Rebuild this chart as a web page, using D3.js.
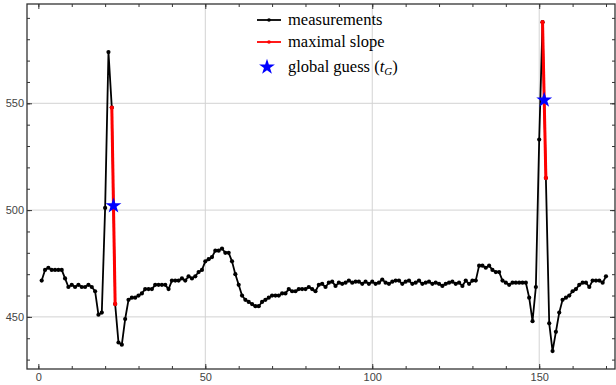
<!DOCTYPE html>
<html><head><meta charset="utf-8">
<script src="https://cdn.jsdelivr.net/npm/d3@7"></script>
<style>body{margin:0;background:#fff}svg{display:block}</style>
</head><body>
<script>
const measurements = [467,472,473,472,472,472,472,468,464,465,464,465,464,464,465,464,462,451,452,501,
574,548,456,438,437,449,458,459,459,460,461,463,463,463,465,465,465,465,463,467,
467,467,468,467,469,468,469,471,472,476,477,478,481,481,482,480,480,476,470,465,
460,458,457,456,455,455,457,458,459,460,460,460,461,461,463,462,462,463,463,463,
464,463,462,465,465.5,464,466,466.5,464.5,466,465.5,466,467,466,466.5,466.5,465.5,466.5,465.5,466.5,
465.5,466,467.5,466,465.5,466.5,467,467,465.5,466.5,467,465.5,466,467,465.5,466,466.5,465.5,466,465.5,
464.5,465.5,466,466.5,465.5,466,464.5,467,465.5,467,467,474,474,473,474,472,471,471,467,466,
465,466,466,466,466,466,459,448,464,533,588,515,447,434,443,452,458,459,460,462,
463,465,466,466,464,467,467,467,466,469];
const sampleIndex = measurements.map((d,i)=>i+1);
const slopeSegments = [[22,23],[151,152]];
const guessX = [22.5, 151.5];
const guessY = [502, 551.5];
const xMajor = [0,50,100,150];
const yMajor = [450,500,550];
const legendLabels = ["measurements","maximal slope","global guess"];

const W=616,H=385;
const svg=d3.select("body").append("svg").attr("width",W).attr("height",H);
const x=d3.scaleLinear().domain([-3.4,172.7]).range([27,615]);
const y=d3.scaleLinear().domain([425.6,596.5]).range([369,4]);

// grid
svg.append("g").selectAll("line").data(xMajor.filter(d=>d>0)).join("line")
 .attr("x1",d=>x(d)).attr("x2",d=>x(d)).attr("y1",4).attr("y2",369)
 .attr("stroke","#d3d3d3").attr("stroke-width",1);
svg.append("g").selectAll("line").data(yMajor).join("line")
 .attr("y1",d=>y(d)).attr("y2",d=>y(d)).attr("x1",27).attr("x2",615)
 .attr("stroke","#d3d3d3").attr("stroke-width",1);

const xMinor=d3.range(0,171,10), yMinor=d3.range(430,596,10);
function axisStyle(g){g.select(".domain").remove();g.selectAll("line").attr("stroke","#333");
 g.selectAll("text").attr("fill","#444").style("font-family","'Liberation Sans',Arial,sans-serif").style("font-size","11px");}
svg.append("g").attr("transform","translate(0,369)").call(d3.axisBottom(x).tickValues(xMinor).tickSize(-3).tickFormat("")).call(axisStyle);
svg.append("g").attr("transform","translate(0,369)").call(d3.axisBottom(x).tickValues(xMajor).tickSize(-5).tickPadding(4)).call(axisStyle);
svg.append("g").attr("transform","translate(0,4)").call(d3.axisTop(x).tickValues(xMinor).tickSize(-3).tickFormat("")).call(axisStyle);
svg.append("g").attr("transform","translate(0,4)").call(d3.axisTop(x).tickValues(xMajor).tickSize(-5).tickFormat("")).call(axisStyle);
svg.append("g").attr("transform","translate(27,0)").call(d3.axisLeft(y).tickValues(yMinor).tickSize(-3).tickFormat("")).call(axisStyle);
svg.append("g").attr("transform","translate(27,0)").call(d3.axisLeft(y).tickValues(yMajor).tickSize(-5).tickPadding(3)).call(axisStyle);
svg.append("g").attr("transform","translate(615,0)").call(d3.axisRight(y).tickValues(yMinor).tickSize(-3).tickFormat("")).call(axisStyle);
svg.append("g").attr("transform","translate(615,0)").call(d3.axisRight(y).tickValues(yMajor).tickSize(-5).tickFormat("")).call(axisStyle);
// frame
svg.append("rect").attr("x",27).attr("y",4).attr("width",588).attr("height",365)
 .attr("fill","none").attr("stroke","#333").attr("stroke-width",1.3);

const pts=measurements.map((v,i)=>[sampleIndex[i],v]);
const line=d3.line().x(d=>x(d[0])).y(d=>y(d[1]));
svg.append("path").datum(pts).attr("d",line).attr("fill","none").attr("stroke","#000").attr("stroke-width",1.8).attr("stroke-linejoin","round");
svg.append("g").selectAll("circle").data(pts).join("circle")
 .attr("cx",d=>x(d[0])).attr("cy",d=>y(d[1])).attr("r",2.1).attr("fill","#000");

slopeSegments.forEach(s=>{
  const seg=s.map(i=>[i,measurements[i-1]]);
  svg.append("path").datum(seg).attr("d",line).attr("fill","none").attr("stroke","#f00").attr("stroke-width",3);
  svg.append("g").selectAll("circle").data(seg).join("circle")
   .attr("cx",d=>x(d[0])).attr("cy",d=>y(d[1])).attr("r",2.1).attr("fill","#f00");
});
const star=d3.symbol().type(d3.symbolStar).size(78);
svg.append("g").selectAll("path").data(guessX.map((g,i)=>[g,guessY[i]])).join("path")
 .attr("d",star).attr("transform",d=>`translate(${x(d[0])},${y(d[1])})`).attr("fill","#00f");

// legend
const lg=svg.append("g").style("font-family","'Liberation Serif','Times New Roman',serif").style("font-size","16.5px");
[["#000",20],["#f00",42]].forEach(([c,yy],i)=>{
  lg.append("line").attr("x1",257).attr("x2",281).attr("y1",yy).attr("y2",yy).attr("stroke",c).attr("stroke-width",1.8);
  lg.append("circle").attr("cx",269).attr("cy",yy).attr("r",1.8).attr("fill",c);
  lg.append("text").attr("x",288).attr("y",yy+5).text(legendLabels[i]);
});
lg.append("path").attr("d",d3.symbol().type(d3.symbolStar).size(78)).attr("transform","translate(267,67)").attr("fill","#00f");
const t3=lg.append("text").attr("x",288).attr("y",72).text(legendLabels[2]+" (");
t3.append("tspan").style("font-style","italic").text("t");
t3.append("tspan").style("font-style","italic").style("font-size","11px").attr("dy",3).text("G");
t3.append("tspan").attr("dy",-3).text(")");
</script>
</body></html>
